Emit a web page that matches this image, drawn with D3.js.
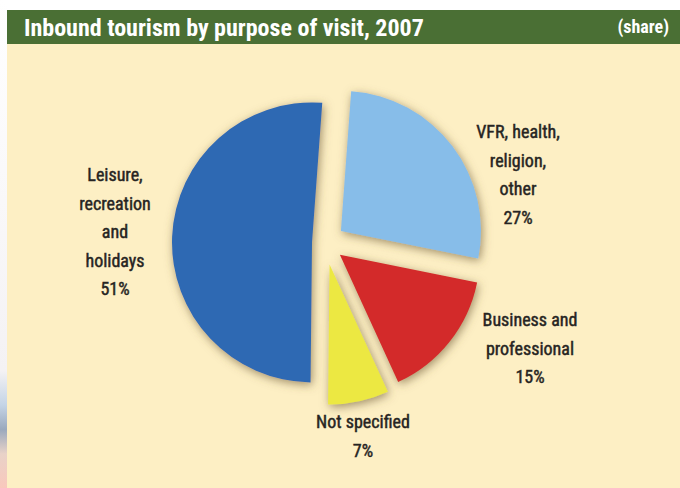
<!DOCTYPE html>
<html>
<head>
<meta charset="utf-8">
<script src="https://cdn.jsdelivr.net/npm/d3@7/dist/d3.min.js"></script>
<style>
  html, body { margin: 0; padding: 0; background: #ffffff; }
  svg { display: block; }
  .lbl { font-family: "Liberation Sans Narrow", "Roboto Condensed", "DejaVu Sans Condensed", sans-serif; font-stretch: condensed; }
</style>
</head>
<body>
<svg id="chart" width="680" height="488"></svg>
<script>
// ---- data ----
const categories = ["VFR, health, religion, other", "Business and professional", "Not specified", "Leisure, recreation and holidays"];
const shares = [27, 15, 7, 51];
const labelLines = [
  ["VFR, health,", "religion,", "other", "27%"],
  ["Business and", "professional", "15%"],
  ["Not specified", "7%"],
  ["Leisure,", "recreation", "and", "holidays", "51%"]
];
const colors = ["#87bde9", "#d3292a", "#ece842", "#2e69b3"];
const title = "Inbound tourism by purpose of visit, 2007";
const unit = "(share)";

// ---- layout ----
const W = 680, H = 488;
const cx = 325, cy = 243, R = 140;
const explode = [20, 19, 22, 13];
const labelPos = [[518, 138], [530, 326], [363, 428], [115, 181]];
const lineH = 28.6;

const svg = d3.select("#chart");
const defs = svg.append("defs");
const f = defs.append("filter").attr("id", "shadow")
  .attr("x", "-20%").attr("y", "-20%").attr("width", "140%").attr("height", "140%");
f.append("feDropShadow").attr("dx", 1.5).attr("dy", 2.5).attr("stdDeviation", 5)
  .attr("flood-color", "#6e5a36").attr("flood-opacity", 0.65);

// left edge bleed
const lg = defs.append("linearGradient").attr("id", "edge").attr("x1", 0).attr("y1", 0).attr("x2", 0).attr("y2", 1);
lg.append("stop").attr("offset", "0%").attr("stop-color", "#ffffff");
lg.append("stop").attr("offset", "76%").attr("stop-color", "#f4f2f4");
lg.append("stop").attr("offset", "83%").attr("stop-color", "#c4d4e6");
lg.append("stop").attr("offset", "88%").attr("stop-color", "#9aa9bd");
lg.append("stop").attr("offset", "93%").attr("stop-color", "#e8d2c8");
lg.append("stop").attr("offset", "100%").attr("stop-color", "#f9c8bc");
svg.append("rect").attr("x", 0).attr("y", 0).attr("width", 7).attr("height", H).attr("fill", "url(#edge)");

// background panels
svg.append("rect").attr("x", 7).attr("y", 44).attr("width", W - 7).attr("height", H - 44).attr("fill", "#fdefc4");
svg.append("rect").attr("x", 7).attr("y", 10).attr("width", W - 7).attr("height", 34).attr("fill", "#4a6f34");

svg.append("text").attr("class", "lbl")
  .attr("x", 24).attr("y", 36)
  .attr("fill", "#ffffff").attr("font-size", 24).attr("font-weight", "bold")
  .text(title);
svg.append("text").attr("class", "lbl")
  .attr("x", 669).attr("y", 33).attr("text-anchor", "end")
  .attr("fill", "#ffffff").attr("font-size", 18).attr("font-weight", "bold")
  .text(unit);

// ---- pie ----
const start = 4.2 * Math.PI / 180;
const pie = d3.pie().sort(null).value(d => d).startAngle(start).endAngle(start + 2 * Math.PI);
const arc = d3.arc().innerRadius(0).outerRadius(R);
const arcs = pie(shares);

const g = svg.append("g").attr("transform", `translate(${cx},${cy})`);
g.selectAll("path.slice").data(arcs).join("path")
  .attr("class", "slice")
  .attr("d", arc)
  .attr("fill", (d, i) => colors[i])
  .attr("filter", "url(#shadow)")
  .attr("transform", (d, i) => {
    const a = (d.startAngle + d.endAngle) / 2;
    return `translate(${explode[i] * Math.sin(a)},${-explode[i] * Math.cos(a)})`;
  });

// ---- labels ----
arcs.forEach((d, i) => {
  const t = svg.append("text").attr("class", "lbl")
    .attr("x", labelPos[i][0]).attr("y", labelPos[i][1])
    .attr("text-anchor", "middle").attr("font-size", 18)
    .attr("fill", "#262422").attr("stroke", "#262422").attr("stroke-width", 0.45);
  labelLines[i].forEach((ln, k) => {
    t.append("tspan").attr("x", labelPos[i][0]).attr("dy", k === 0 ? 0 : lineH).text(ln);
  });
});
</script>
</body>
</html>
